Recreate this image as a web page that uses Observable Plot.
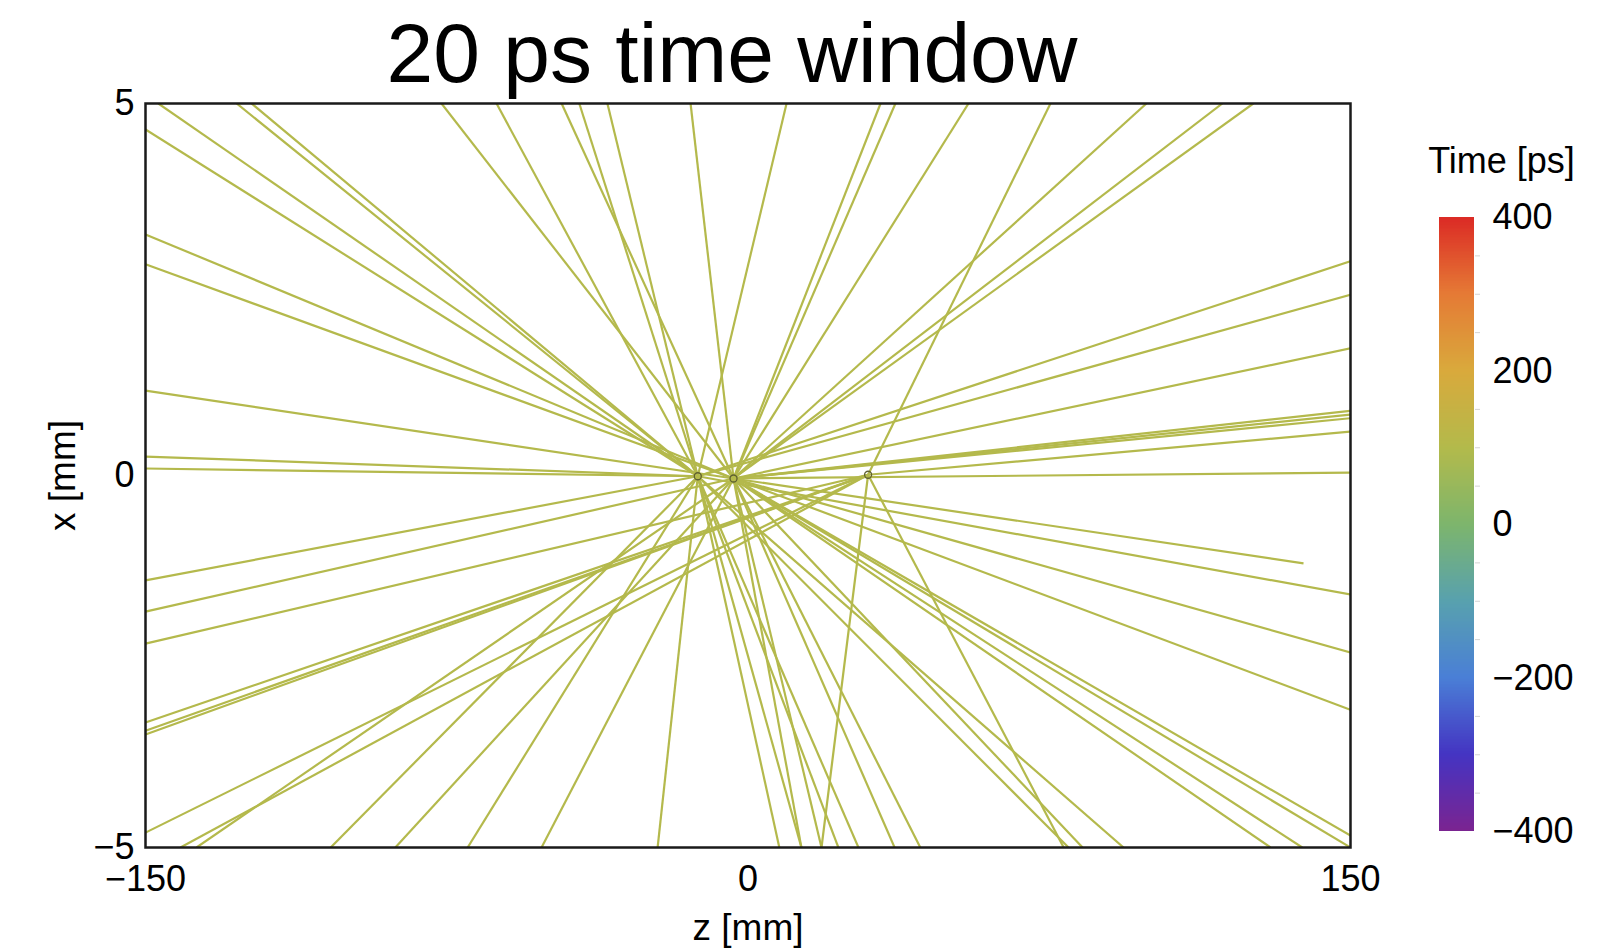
<!DOCTYPE html>
<html>
<head>
<meta charset="utf-8">
<script src="https://cdn.jsdelivr.net/npm/d3@7"></script>
<script src="https://cdn.jsdelivr.net/npm/@observablehq/plot@0.6"></script>
<style>
  body { margin: 0; background: #fff; }
  #wrap { position: relative; width: 1608px; height: 951px; overflow: hidden;
          font-family: "Liberation Sans", Arial, Helvetica, sans-serif; }
  #title { position: absolute; left: 0; top: 11px; width: 1464px; text-align: center;
           font-size: 84px; line-height: 84px; color: #000; }
  #main { position: absolute; left: 0; top: 60px; }
  #cbar { position: absolute; left: 1400px; top: 120px; }
  svg { overflow: visible; }
</style>
</head>
<body>
<div id="wrap">
  <div id="title">20 ps time window</div>
  <div id="main"></div>
  <div id="cbar"></div>
</div>
<script>
// ---- data ----
const zTicks = [-150, 0, 150];
const xTicks = [-5, 0, 5];

// reconstructed vertices (z [mm], x [mm])
const vertexZ = [-12.5, -3.6, 29.9];
const vertexX = [-0.01, -0.04, 0.01];

// each track: vertex index and end point (z, x)
const trackVertex = [
  // ending on top edge
  0, 0, 0, 1, 0, 1, 0, 0, 1, 0, 1, 1, 1, 2, 1, 1, 1,
  // ending on left edge
  0, 1, 1, 1, 0, 0, 0, 1, 2, 2, 2, 2, 2,
  // ending on bottom edge
  2, 1, 0, 1, 0, 1, 0, 0, 0, 1, 1, 2, 0, 0, 1, 1, 2, 0, 1, 0, 1, 1, 1,
  // ending on right edge
  0, 0, 1, 1, 1, 1, 2, 1, 0, 1, 1, 1,
  // ending inside
  1
];
const trackEndZ = [
  -146.8, -127.3, -123.6, -76.3, -62.6, -46.4, -42.0, -35.0, -14.3, 9.6, 33.0, 36.7, 54.9, 75.3, 99.2, 118.1, 125.8,
  -150, -150, -150, -150, -150, -150, -150, -150, -150, -150, -150, -150, -150,
  -141.3, -137.3, -103.9, -87.8, -69.8, -51.4, -22.5, 7.8, 13.3, 13.3, 18.3, 18.3, 22.5, 27.5, 36.5, 42.9, 78.6, 79.8, 83.3, 93.5, 130.1, 138.0, 150,
  150, 150, 150, 150, 150, 150, 150, 150, 150, 150, 150, 150,
  138.3
];
const trackEndX = [
  5, 5, 5, 5, 5, 5, 5, 5, 5, 5, 5, 5, 5, 5, 5, 5, 5,
  4.65, 3.24, 2.84, 1.14, 0.255, 0.094, -1.41, -1.83, -2.26, -3.32, -3.43, -3.48, -4.80,
  -5, -5, -5, -5, -5, -5, -5, -5, -5, -5, -5, -5, -5, -5, -5, -5, -5, -5, -5, -5, -5, -5, -5,
  2.88, 2.43, 1.71, 0.87, 0.82, 0.77, 0.59, 0.04, -1.60, -2.38, -3.15, -4.84,
  -1.18
];

// colour bar
const cbTicks = [-400, -200, 0, 200, 400];
const cbMinor = [-350, -300, -250, -150, -100, -50, 50, 100, 150, 250, 300, 350];
const cbStops = [-400, -300, -200, -100, 0, 100, 200, 300, 400];
const cbColors = ["#7b2490", "#4434c2", "#4a7fd6", "#58a1ae", "#7db56c", "#b3ba4b", "#d9a93c", "#e57a35", "#db2a25"];

// ---- build ----
const fontFamily = '"Liberation Sans", Arial, Helvetica, sans-serif';
const tracks = trackVertex.map((v, i) => ({
  z1: vertexZ[v], x1: vertexX[v], z2: trackEndZ[i], x2: trackEndX[i]
}));
const vertices = vertexZ.map((z, i) => ({z, x: vertexX[i]}));

const main = Plot.plot({
  width: 1390, height: 887,
  marginLeft: 145, marginRight: 40, marginTop: 43, marginBottom: 100,
  x: {domain: [-150, 150]},
  y: {domain: [-5, 5]},
  style: {fontFamily, fontSize: "36px", color: "#000", background: "transparent"},
  marks: [
    Plot.link(tracks, {x1: "z1", y1: "x1", x2: "z2", y2: "x2", stroke: "#b4b94c", strokeWidth: 2.2, clip: true}),
    Plot.dot(vertices, {x: "z", y: "x", r: 3.5, stroke: "#5f6030", strokeWidth: 1.3, fill: "none"}),
    Plot.frame({stroke: "#1a1a1a", strokeWidth: 2.5}),
    Plot.axisX({ticks: zTicks, tickSize: 0, tickPadding: 18, fontSize: 36, label: null}),
    Plot.axisY({ticks: xTicks, tickSize: 0, tickPadding: 11, fontSize: 36, label: null}),
    Plot.text(["z [mm]"], {frameAnchor: "bottom", dy: 81, lineAnchor: "middle", textAnchor: "middle", fontSize: 37}),
    Plot.text(["x [mm]"], {frameAnchor: "left", dx: -82, rotate: -90, lineAnchor: "middle", textAnchor: "middle", fontSize: 37})
  ]
});
document.getElementById("main").appendChild(main);

const cbScale = d3.scaleLinear().domain(cbStops).range(cbColors);
const cbSteps = d3.range(-400, 400, 2);
const cbar = Plot.plot({
  width: 208, height: 760,
  marginLeft: 39, marginRight: 134, marginTop: 97, marginBottom: 49,
  x: {domain: [0, 1], axis: null},
  y: {domain: [-400, 400]},
  color: {type: "identity"},
  style: {fontFamily, fontSize: "36px", color: "#000", background: "transparent"},
  marks: [
    Plot.rect(cbSteps, {x1: () => 0, x2: () => 1, y1: d => d, y2: d => Math.min(d + 2.6, 400),
                        fill: d => cbScale(d + 1), shapeRendering: "crispEdges"}),
    Plot.axisY({anchor: "right", ticks: cbMinor, tickSize: 5, tickFormat: () => "", stroke: "#d4d4d4", label: null}),
    Plot.axisY({anchor: "right", ticks: cbTicks, tickSize: 0, tickPadding: 18, fontSize: 36, label: null}),
    Plot.text(["Time [ps]"], {frameAnchor: "top", dy: -56, dx: 44.5, lineAnchor: "middle", textAnchor: "middle", fontSize: 36})
  ]
});
document.getElementById("cbar").appendChild(cbar);
</script>
</body>
</html>
